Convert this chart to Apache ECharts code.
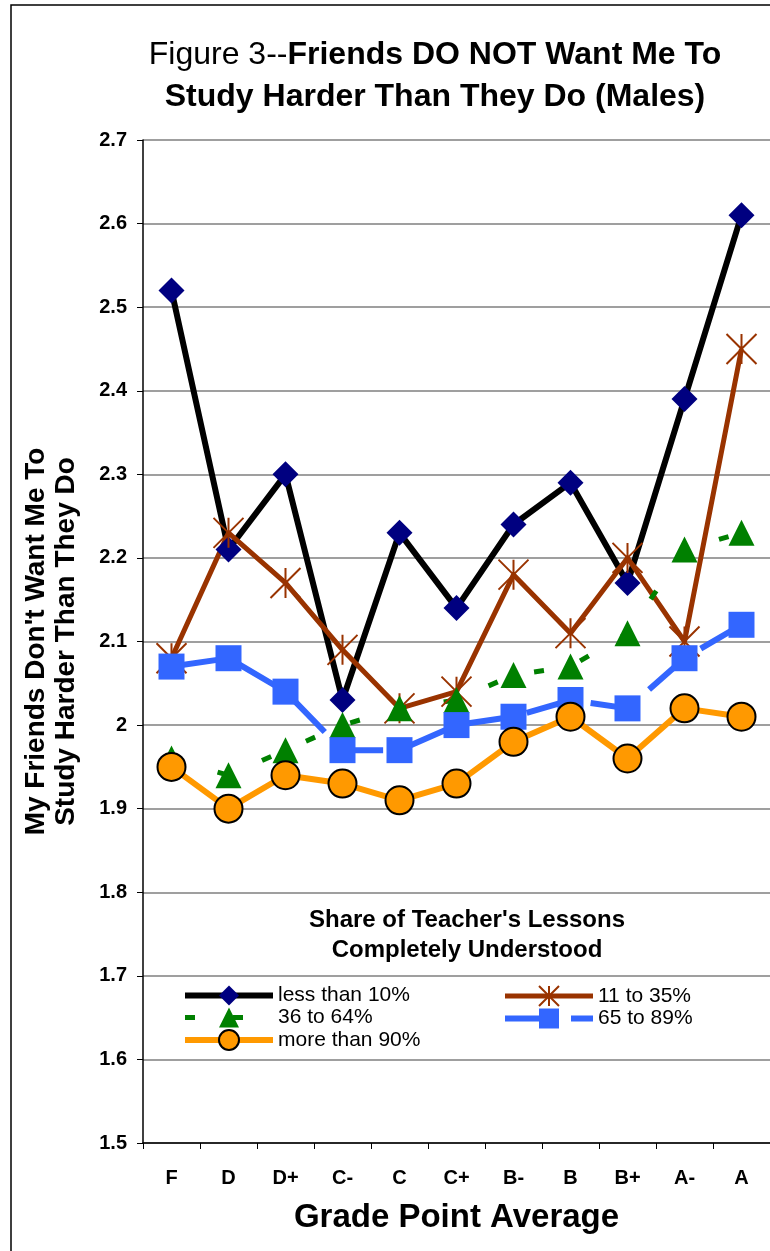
<!DOCTYPE html>
<html>
<head>
  <meta charset="utf-8">
  <title>Figure 3 - Friends DO NOT Want Me To Study Harder (Males)</title>
  <script src="https://cdn.jsdelivr.net/npm/echarts@6/dist/echarts.min.js"></script>
  <style>
    html, body { margin: 0; padding: 0; background: #fff; }
    #main { width: 770px; height: 1251px; }
  </style>
</head>
<body>
  <div id="main"></div>
  <script type="text/javascript">
    // grade categories on the x axis
    var grades = ['F', 'D', 'D+', 'C-', 'C', 'C+', 'B-', 'B', 'B+', 'A-', 'A'];

    // share of teacher's lessons completely understood
    var lessThan10 = [2.52, 2.21, 2.30, 2.03, 2.23, 2.14, 2.24, 2.29, 2.17, 2.39, 2.61];
    var from11to35 = [2.08, 2.23, 2.17, 2.09, 2.02, 2.04, 2.18, 2.11, 2.20, 2.10, 2.45];
    var from36to64 = [1.96, 1.94, 1.97, 2.00, 2.02, 2.03, 2.06, 2.07, 2.11, 2.21, 2.23];
    var from65to89 = [2.07, 2.08, 2.04, 1.97, 1.97, 2.00, 2.01, 2.03, 2.02, 2.08, 2.12];
    var moreThan90 = [1.95, 1.90, 1.94, 1.93, 1.91, 1.93, 1.98, 2.01, 1.96, 2.02, 2.01];

    var seriesNames = ['less than 10%', '11 to 35%', '36 to 64%', '65 to 89%', 'more than 90%'];

    var font = '"Liberation Sans", Arial, sans-serif';
    var asterisk = 'path://M0,0L20,20M20,0L0,20M10,0L10,20';

    var myChart = echarts.init(document.getElementById('main'));

    var option = {
      backgroundColor: '#fff',
      animation: false,
      title: [{
        text: '{a|Figure 3--}{b|Friends DO NOT Want Me To}\n{b|Study Harder Than They Do (Males)}',
        left: 430,
        top: 29,
        textAlign: 'center',
        textStyle: {
          rich: {
            a: { fontSize: 32, fontFamily: font, fontWeight: 'normal', color: '#000', lineHeight: 42 },
            b: { fontSize: 32, fontFamily: font, fontWeight: 'bold', color: '#000', lineHeight: 42 }
          }
        }
      }, {
        text: "Share of Teacher's Lessons\nCompletely Understood",
        left: 462,
        top: 900,
        textAlign: 'center',
        textStyle: { fontSize: 24, fontFamily: font, fontWeight: 'bold', color: '#000', lineHeight: 30 }
      }],
      graphic: [{
        type: 'rect',
        shape: { x: 11, y: 5, width: 820, height: 1300 },
        style: { fill: 'none', stroke: '#000', lineWidth: 1.5 },
        silent: true
      }],
      legend: [{
        data: ['less than 10%', '36 to 64%', 'more than 90%'],
        orient: 'vertical',
        left: 182,
        top: 985,
        itemWidth: 88,
        itemHeight: 25,
        itemGap: 1,
        padding: 0,
        lineStyle: { width: 'inherit' },
        textStyle: { fontSize: 21, fontFamily: font, color: '#000' }
      }, {
        data: ['11 to 35%', '65 to 89%'],
        orient: 'vertical',
        left: 502,
        top: 985,
        itemWidth: 88,
        itemHeight: 25,
        itemGap: 1,
        padding: 0,
        lineStyle: { width: 'inherit' },
        textStyle: { fontSize: 21, fontFamily: font, color: '#000' }
      }],
      grid: {
        left: 143,
        right: -8,
        top: 140,
        bottom: 108
      },
      xAxis: {
        type: 'category',
        data: grades,
        boundaryGap: true,
        name: 'Grade Point Average',
        nameLocation: 'middle',
        nameGap: 58,
        nameTextStyle: { fontSize: 33, fontFamily: font, fontWeight: 'bold', color: '#000' },
        axisLine: { lineStyle: { color: '#000', width: 1.5 } },
        axisTick: { show: true, interval: 0, length: 6, lineStyle: { color: '#000', width: 1 } },
        axisLabel: { interval: 0, margin: 25, fontSize: 20, fontFamily: font, fontWeight: 'bold', color: '#000' }
      },
      yAxis: {
        type: 'value',
        min: 1.5,
        max: 2.7,
        interval: 0.1,
        name: "My Friends Don't Want Me To\nStudy Harder Than They Do",
        nameLocation: 'middle',
        nameRotate: 90,
        nameGap: 62,
        nameTextStyle: { fontSize: 28, fontFamily: font, fontWeight: 'bold', color: '#000', lineHeight: 30 },
        axisLine: { show: true, lineStyle: { color: '#000', width: 1.5 } },
        axisTick: { show: true, length: 6, lineStyle: { color: '#000', width: 1 } },
        axisLabel: {
          margin: 16,
          fontSize: 20,
          fontFamily: font,
          fontWeight: 'bold',
          color: '#000',
          formatter: function (v) { return String(Number(v.toFixed(1))); }
        },
        splitLine: { show: true, lineStyle: { color: '#7f7f7f', width: 1.5 } }
      },
      series: [{
        name: seriesNames[0],
        type: 'line',
        data: lessThan10,
        symbol: 'diamond',
        symbolSize: 26,
        lineStyle: { color: '#000', width: 6 },
        itemStyle: { color: '#000080' }
      }, {
        name: seriesNames[1],
        type: 'line',
        data: from11to35,
        symbol: asterisk,
        symbolSize: 30,
        lineStyle: { color: '#993300', width: 5 },
        itemStyle: { color: 'rgba(0,0,0,0)', borderColor: '#993300', borderWidth: 2 }
      }, {
        name: seriesNames[2],
        type: 'line',
        data: from36to64,
        symbol: 'triangle',
        symbolSize: 26,
        lineStyle: { color: '#008000', width: 5, type: [10, 38] },
        itemStyle: { color: '#008000' }
      }, {
        name: seriesNames[3],
        type: 'line',
        data: from65to89,
        symbol: 'rect',
        symbolSize: 26,
        lineStyle: { color: '#3366ff', width: 6, type: [48, 18] },
        itemStyle: { color: '#3366ff' }
      }, {
        name: seriesNames[4],
        type: 'line',
        data: moreThan90,
        symbol: 'circle',
        symbolSize: 28,
        lineStyle: { color: '#ff9900', width: 6 },
        itemStyle: { color: '#ff9900', borderColor: '#000', borderWidth: 2 }
      }]
    };

    myChart.setOption(option);
  </script>
</body>
</html>
